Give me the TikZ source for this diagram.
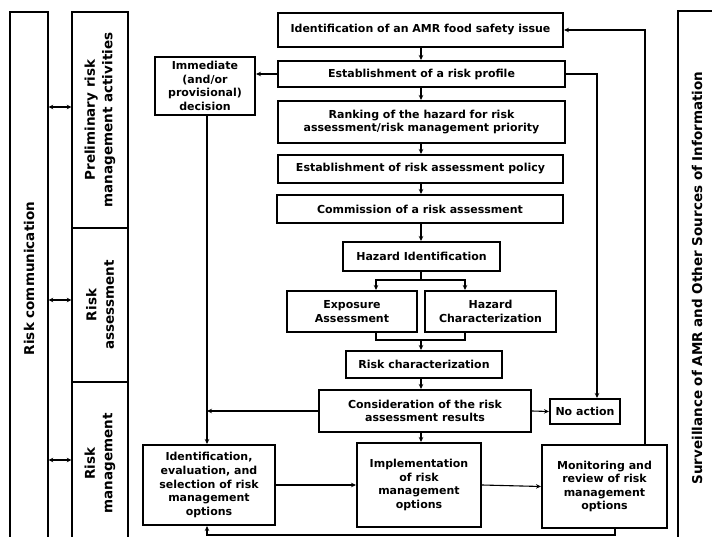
\documentclass[tikz,border=0pt]{standalone}
\usepackage{fontspec}
\setmainfont{DejaVu Sans}
\usetikzlibrary{arrows.meta}
\begin{document}
\begin{tikzpicture}[x=1pt,y=-1pt,
  box/.style={draw, line width=2pt, align=center, inner sep=0pt,
    font=\fontsize{11}{13.6}\selectfont\bfseries},
  band/.style={draw, line width=1.4pt, rotate=90, align=center, inner sep=0pt,
    font=\fontsize{13.5}{17.5}\selectfont\bfseries},
  arr/.style={-{Stealth[length=5pt,width=4.5pt]}, line width=1.1pt},
  link/.style={line width=1.1pt},
  dbl/.style={{Stealth[length=4.5pt,width=4.5pt]}-{Stealth[length=4.5pt,width=4.5pt]}, line width=1.1pt}]
\useasboundingbox (0,0) rectangle (712,537);

% side bands
\node[band, minimum width=533, minimum height=38] (comm) at (29,278.5) {Risk communication};
\node[band, minimum width=216, minimum height=56] (prelim) at (100,120) {Preliminary risk\\management activities};
\node[band, minimum width=154, minimum height=56] (assess) at (100,305) {Risk\\assessment};
\node[band, minimum width=163, minimum height=56] (mgmt) at (100,463.5) {Risk\\management};
\node[band, minimum width=534, minimum height=38] (surv) at (697,278) {Surveillance of AMR and Other Sources of Information};

% main chain
\node[box, minimum width=285, minimum height=34] (idf) at (420.5,30) {Identification of an AMR food safety issue};
\node[box, minimum width=287, minimum height=26] (prof) at (421.5,74) {Establishment of a risk profile};
\node[box, minimum width=287, minimum height=42] (rank) at (421.5,122) {Ranking of the hazard for risk\\assessment/risk management priority};
\node[box, minimum width=285, minimum height=28] (pol) at (420.5,169) {Establishment of risk assessment policy};
\node[box, minimum width=286, minimum height=28] (comr) at (420,209) {Commission of a risk assessment};
\node[box, minimum width=157, minimum height=29] (hid) at (421.5,256.5) {Hazard Identification};
\node[box, minimum width=130, minimum height=41] (exp) at (352,311.5) {Exposure\\Assessment};
\node[box, minimum width=131, minimum height=41] (hch) at (490.5,311.5) {Hazard\\Characterization};
\node[box, minimum width=156, minimum height=27] (rch) at (424,364.5) {Risk characterization};
\node[box, minimum width=212, minimum height=42] (cons) at (425,411) {Consideration of the risk\\assessment results};
\node[box, minimum width=70, minimum height=25] (noact) at (585,411.5) {No action};
\node[box, minimum width=132, minimum height=80] (ident) at (209,485) {Identification,\\evaluation, and\\selection of risk\\management\\options};
\node[box, minimum width=124, minimum height=84] (impl) at (419,485) {Implementation\\of risk\\management\\options};
\node[box, minimum width=125, minimum height=83] (mon) at (604.5,486.5) {Monitoring and\\review of risk\\management\\options};
\node[box, minimum width=100, minimum height=58] (imm) at (205,86) {Immediate\\(and/or\\provisional)\\decision};

% guide coordinates for connector columns and rows
\coordinate (spine) at (421,0);
\coordinate (lx) at (207,0);
\coordinate (rx) at (597,0);
\coordinate (fx) at (645,0);
\coordinate (bx) at (615,0);
\coordinate (sx) at (376,0);
\coordinate (hx) at (465,0);
\coordinate (split) at (421,280);
\coordinate (merge) at (421,340);
\coordinate (bot) at (0,535);
\coordinate (a1) at (0,107);
\coordinate (a2) at (0,300);
\coordinate (a3) at (0,460);

% communication links
\draw[dbl] (comm.south |- a1) -- (prelim.north |- a1);
\draw[dbl] (comm.south |- a2) -- (assess.north |- a2);
\draw[dbl] (comm.south |- a3) -- (mgmt.north |- a3);

% main chain arrows
\draw[arr] (idf.south -| spine) -- (prof.north -| spine);
\draw[arr] (prof.south -| spine) -- (rank.north -| spine);
\draw[arr] (rank.south -| spine) -- (pol.north -| spine);
\draw[arr] (pol.south -| spine) -- (comr.north -| spine);
\draw[arr] (comr.south -| spine) -- (hid.north -| spine);
\draw[link] (hid.south -| spine) -- (split);
\draw[arr] (split) -| (exp.north -| sx);
\draw[arr] (split) -| (hch.north -| hx);
\draw[link] (exp.south -| sx) |- (merge);
\draw[link] (hch.south -| hx) |- (merge);
\draw[arr] (merge) -- (rch.north -| spine);
\draw[arr] (rch.south -| spine) -- (cons.north -| spine);
\draw[arr] (cons.south -| spine) -- (impl.north -| spine);

% branches
\draw[arr] (prof.west) -- (prof.west -| imm.east);
\draw[arr] (imm.south -| lx) -- (ident.north -| lx);
\draw[arr] (cons.west) -- (cons.west -| lx);
\draw[arr] (cons.east) -- (noact.west);
\draw[arr] (prof.east) -- (prof.east -| rx) -- (noact.north -| rx);
\draw[arr] (ident.east) -- (impl.west);
\draw[arr] (impl.east) -- (mon.west);
\draw[arr] (mon.north -| fx) |- (idf.east);
\draw[arr] (mon.south -| bx) -- (bx |- bot) -| (ident.south -| lx);
\end{tikzpicture}
\end{document}
